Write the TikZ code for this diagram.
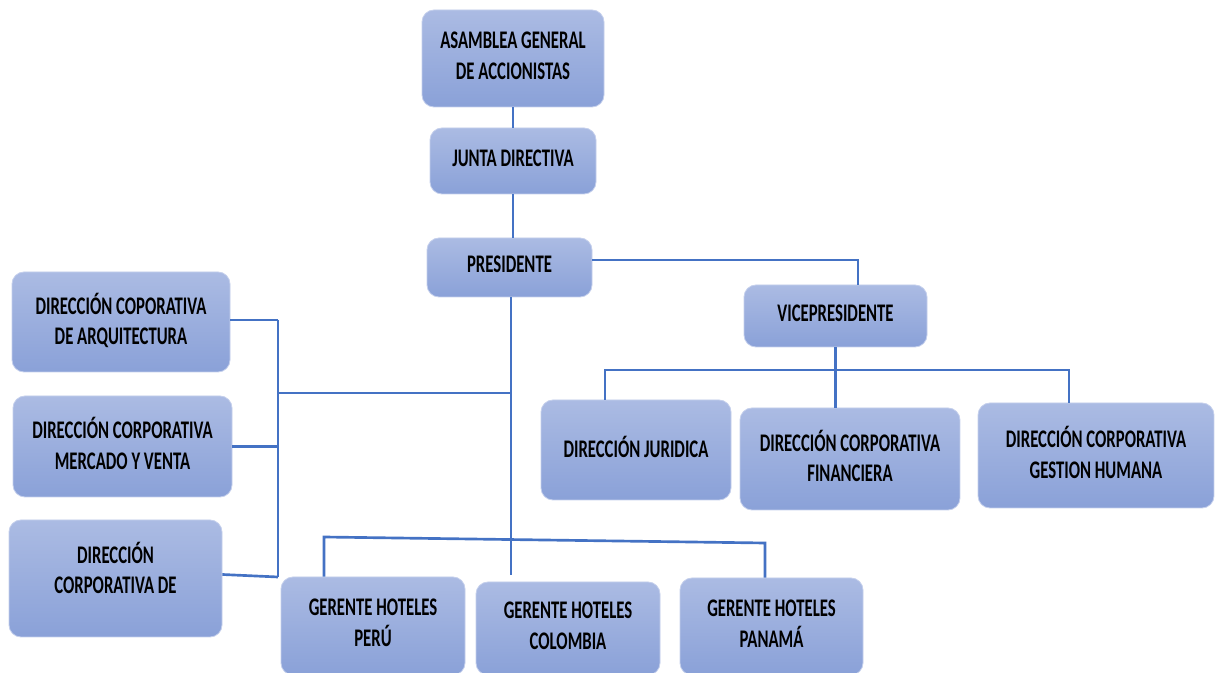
\documentclass[tikz,border=0pt]{standalone}
\usepackage{fontspec}
\usepackage{tikz}
\newfontfamily\boxfont{Carlito}[FakeStretch=0.66]
\definecolor{boxtop}{RGB}{171,187,227}
\definecolor{boxbot}{RGB}{138,161,216}
\definecolor{boxline}{RGB}{196,207,236}
\definecolor{linkblue}{RGB}{68,114,196}

\begin{document}
\begin{tikzpicture}
            [x=0.75pt, y=-0.75pt,
             box/.style={rectangle, rounded corners=9pt, top color=boxtop, bottom color=boxbot, draw=boxline, line width=0.6pt, align=center, inner sep=2pt, text depth=4.5pt, font={\boxfont\bfseries\fontsize{19}{23}\selectfont}},
             boxtext/.style={align=center, inner sep=0pt, font={\boxfont\bfseries\fontsize{19}{23}\selectfont}},
             link/.style={draw=linkblue, line width=2pt}]
            \path[fill=white, use as bounding box] (0,0) rectangle (1215,673);
            \begin{scope}
            % top of the chart
            \node[box, minimum width=136.5pt, minimum height=72.75pt] (asamblea) at (513,58.5) {ASAMBLEA GENERAL\\DE ACCIONISTAS};
            \node[box, minimum width=124.5pt, minimum height=49.5pt] (junta) at (513,161) {JUNTA DIRECTIVA};
            \node[box, minimum width=123.75pt, minimum height=44.25pt] (pres) at (509.5,267.5) {PRESIDENTE};
            \node[box, minimum width=137.25pt, minimum height=46.5pt] (vice) at (835.5,316) {VICEPRESIDENTE};
            % left column
            \node[box, minimum width=163.5pt, minimum height=75pt] (arq) at (121,322) {DIRECCIÓN COPORATIVA\\DE ARQUITECTURA};
            \node[box, minimum width=164.25pt, minimum height=75.75pt] (mercado) at (122.5,446.5) {DIRECCIÓN CORPORATIVA\\MERCADO Y VENTA};
            \node[box, minimum width=159.75pt, minimum height=87.75pt] (corpde) at (115.5,578.5) {};
            \node[boxtext] (corpdetxt) at ([yshift=8pt]corpde.center) {DIRECCIÓN\\CORPORATIVA DE};
            % under the vicepresident
            \node[box, minimum width=142.5pt, minimum height=75pt] (juridica) at (636,450) {DIRECCIÓN JURIDICA};
            \node[box, minimum width=165pt, minimum height=76.5pt] (financiera) at (850,459) {DIRECCIÓN CORPORATIVA\\FINANCIERA};
            \node[box, minimum width=177pt, minimum height=78.75pt] (humana) at (1096,455.5) {DIRECCIÓN CORPORATIVA\\GESTION HUMANA};
            % hotels
            \node[box, minimum width=138pt, minimum height=73.5pt] (peru) at (373,626) {GERENTE HOTELES\\PERÚ};
            \node[box, minimum width=138pt, minimum height=69.75pt] (colombia) at (568,628.5) {GERENTE HOTELES\\COLOMBIA};
            \node[box, minimum width=137.25pt, minimum height=72.75pt] (panama) at (771.5,626.5) {GERENTE HOTELES\\PANAMÁ};

            \coordinate (pv) at (858,260);
            \coordinate (trunk) at (511,575);
            \coordinate (lt) at (278,320);
            \coordinate (lb) at (278,577);
            \coordinate (lm) at (278,393);
            \coordinate (bl) at (324,537);
            \coordinate (br) at (765,543);
            \coordinate (vl) at (605,370);
            \coordinate (vr) at (1069,370);

            \draw[link] (asamblea) -- (junta);
            \draw[link] (junta.south) -- (pres.north -| junta.south);
            \draw[link] (pres.east |- pv) -- (pv) -- (vice.north -| pv);
            \draw[link] (pres.south -| trunk) -- (trunk);
            \draw[link] (lm) -- (trunk |- lm);
            \draw[link] (lt) -- (lb);
            \draw[link] (arq.east |- lt) -- (lt);
            \draw[link] (mercado.east) -- (mercado.east -| lt);
            \draw[link] ([yshift=3pt]corpde.east) -- (lb);
            \draw[link] (peru.north -| bl) -- (bl) -- (br) -- (panama.north -| br);
            \draw[link] (vice.south) -- (financiera.north -| vice.south);
            \draw[link] (juridica.north -| vl) -- (vl) -- (vr) -- (humana.north -| vr);
            \end{scope}
            \end{tikzpicture}
\end{document}
